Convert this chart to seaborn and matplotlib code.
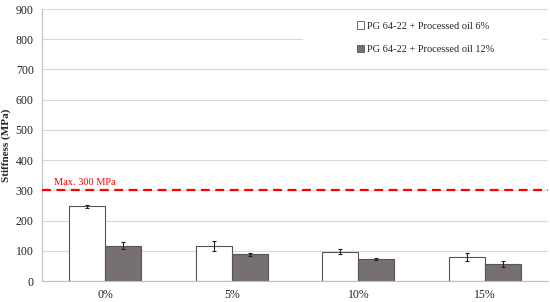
import seaborn as sns
import matplotlib.pyplot as plt
import pandas as pd
from matplotlib.patches import Rectangle

# Data
categories = ['0%', '5%', '10%', '15%']
series = ['PG 64-22 + Processed oil 6%', 'PG 64-22 + Processed oil 12%']
oil6 = [247, 117, 97, 79]
oil6_err = [4, 17, 8, 14]
oil12 = [117, 88, 72, 55]
oil12_err = [12, 4, 3, 10]

df = pd.DataFrame({
    'cat': categories * 2,
    'series': [series[0]] * 4 + [series[1]] * 4,
    'value': oil6 + oil12,
})
errs = oil6_err + oil12_err

sns.set_style('white')
plt.rcParams['font.family'] = ['Liberation Serif', 'DejaVu Serif']

fig = plt.figure(figsize=(5.5, 3.02), dpi=100)
ax = fig.add_axes([0.0764, 0.0695, 0.92, 0.9005])

sns.barplot(data=df, x='cat', y='value', hue='series', order=categories,
            hue_order=series, palette=['white', '#777070'], width=0.57,
            edgecolor='#555555', linewidth=0.8, errorbar=None, ax=ax,
            saturation=1)

# error bars at the bar centres
for patch, e in zip(ax.patches[:8], errs):
    x = patch.get_x() + patch.get_width() / 2
    ax.errorbar(x, patch.get_height(), yerr=e, color='#222222',
                capsize=1.5, elinewidth=0.8, capthick=0.8, zorder=4)

# limit line
ax.axhline(300, color='#ff0000', linestyle=(0, (4, 2.5)), linewidth=1.6, zorder=5)
ax.text(-0.405, 318, 'Max. 300 MPa', color='#ff0000', fontsize=7.5, va='baseline')

ax.set_ylim(0, 900)
ax.set_xlim(-0.5, 3.5)
ax.set_yticks(range(0, 901, 100))
ax.yaxis.grid(True, color='#d9d9d9', linewidth=0.8)
ax.set_axisbelow(True)
for s in ['top', 'right']:
    ax.spines[s].set_visible(False)
ax.spines['left'].set_color('#bfbfbf')
ax.spines['bottom'].set_color('#bfbfbf')
ax.tick_params(axis='both', length=0, labelsize=8.5, colors='#222222')
ax.tick_params(axis='y', pad=6)
ax.tick_params(axis='x', pad=6)
ax.set_xlabel('')
ax.set_ylabel('Stiffness (MPa)', fontsize=8, fontweight='bold')
ax.yaxis.set_label_coords(-0.062, 0.5)

# white box behind the legend, covering the gridlines
ax.add_patch(Rectangle((0.516, 0.783), 0.472, 0.21, transform=ax.transAxes,
                       facecolor='white', edgecolor='none', zorder=1))

leg = ax.legend(loc='upper left', bbox_to_anchor=(0.622, 0.955), fontsize=7.5,
                frameon=False, borderaxespad=0, borderpad=0,
                handlelength=0.7, handleheight=0.7, handletextpad=0.3,
                labelspacing=1.4)
for h in leg.legend_handles:
    h.set_edgecolor('#555555')
    h.set_linewidth(0.6)

fig.savefig('out.png', dpi=100)
